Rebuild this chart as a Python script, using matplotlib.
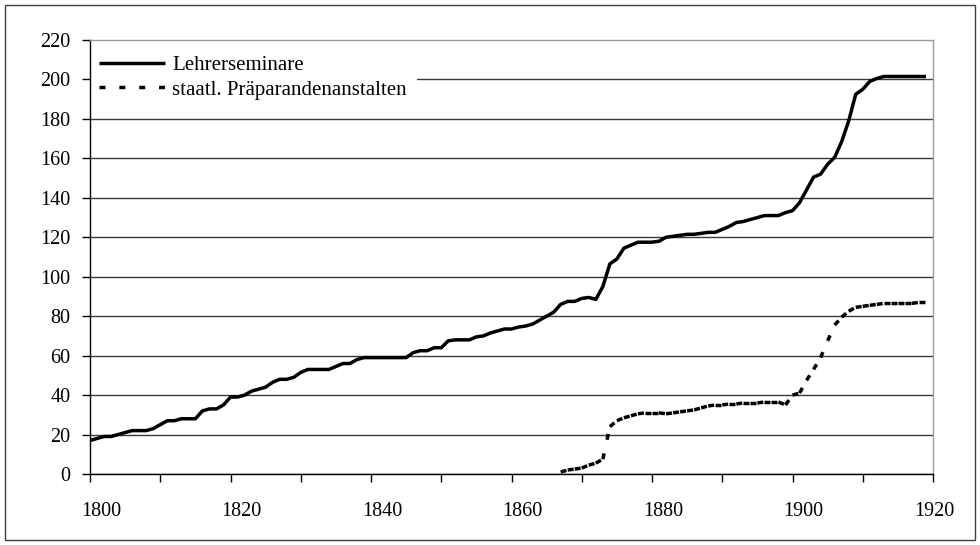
import numpy as np
import matplotlib
matplotlib.use('Agg')
import matplotlib.pyplot as plt
from matplotlib.collections import LineCollection
from matplotlib.lines import Line2D
from matplotlib.patches import Rectangle
import matplotlib.transforms as mtransforms

plt.rcParams['font.family'] = ['Liberation Serif', 'DejaVu Serif']
plt.rcParams['lines.scale_dashes'] = False

# ---------------- data ----------------
years_seminare = list(range(1800, 1920))
seminare = [
    17, 18, 19, 19, 20, 21, 22, 22, 22, 23,              # 1800-1809
    25, 27, 27, 28, 28, 28, 32, 33, 33, 35,              # 1810-1819
    39, 39, 40, 42, 43, 44, 46.5, 48, 48, 49,            # 1820-1829
    51.5, 53, 53, 53, 53, 54.5, 56, 56, 58, 59,          # 1830-1839
    59, 59, 59, 59, 59, 59, 61.5, 62.5, 62.5, 64,        # 1840-1849
    64, 67.5, 68, 68, 68, 69.5, 70, 71.5, 72.5, 73.5,    # 1850-1859
    73.5, 74.5, 75, 76, 78, 80, 82, 86, 87.5, 87.5,      # 1860-1869
    89, 89.5, 88.5, 95, 106.5, 109, 114.5, 116, 117.5, 117.5,   # 1870-1879
    117.5, 118, 120, 120.5, 121, 121.5, 121.5, 122, 122.5, 122.5,  # 1880-1889
    124, 125.5, 127.5, 128, 129, 130, 131, 131, 131, 132.5,       # 1890-1899
    133.5, 137.5, 144, 150.5, 152, 157, 160.5, 168.5, 179, 192.5,  # 1900-1909
    195, 199, 200.5, 201.5, 201.5, 201.5, 201.5, 201.5, 201.5, 201.5,  # 1910-1919
]

years_praep = list(range(1867, 1920))
praep = [
    1, 2, 2.5,                                           # 1867-1869
    3, 4.5, 5.5, 7.5, 24, 27, 28.5, 29.5, 30.5, 31,      # 1870-1879
    31, 31, 30.5, 31, 31.5, 32, 32.5, 33.5, 34.5, 35,    # 1880-1889
    35, 35.5, 35.5, 36, 36, 36, 36.5, 36.5, 36.5, 35,    # 1890-1899
    40, 41, 47.5, 53, 59, 67.5, 75.5, 79.5, 82.5, 84.5,  # 1900-1909
    85, 85.5, 86, 86.5, 86.5, 86.5, 86.5, 86.5, 87, 87,  # 1910-1919
]

series_labels = ['Lehrerseminare', 'staatl. Präparandenanstalten']
y_ticks = list(range(0, 221, 20))
x_ticks = list(range(1800, 1921, 10))
x_ticklabels = [str(y) if y % 20 == 0 else '' for y in x_ticks]

# ---------------- figure ----------------
W, H = 980, 545
fig = plt.figure(figsize=(W / 100, H / 100), dpi=100)
ax = fig.add_axes([90 / W, (H - 474) / H, 843 / W, 434 / H])
ax.set_xlim(1800, 1920)
ax.set_ylim(0, 220)

ax.set_yticks(y_ticks)
ax.set_xticks(x_ticks)
ax.set_xticklabels(x_ticklabels)
ax.yaxis.grid(True, color='#3a3a3a', lw=1.0)
ax.set_axisbelow(True)
ax.yaxis.get_gridlines()[-1].set_visible(False)

ax.tick_params(axis='y', direction='out', length=6, width=1, labelsize=14.5,
               pad=8, color='black')
ax.tick_params(axis='x', direction='out', length=6, width=1, labelsize=14.5,
               pad=14, color='black')

for s in ['left', 'bottom']:
    ax.spines[s].set_color('black')
    ax.spines[s].set_linewidth(1.0)
for s in ['top', 'right']:
    ax.spines[s].set_color('#9a9a9a')
    ax.spines[s].set_linewidth(1.0)
for s in ax.spines.values():
    s.set_zorder(6)

# shift x labels slightly to the right as in the reference
for i, lab in enumerate(ax.get_xticklabels()):
    dx = 11 if x_ticks[i] < 1920 else 1
    lab.set_transform(lab.get_transform() +
                      mtransforms.ScaledTranslation(dx / 100, 0, fig.dpi_scale_trans))

LW = 2.5
DASH = (0, (4.3, 10.0))

ax.plot(years_seminare, seminare, color='black', lw=LW,
        solid_joinstyle='round', solid_capstyle='butt', zorder=3)

xp = np.asarray(years_praep, dtype=float)
yp = np.asarray(praep, dtype=float)
segs = np.stack([np.column_stack([xp[:-1], yp[:-1]]),
                 np.column_stack([xp[1:], yp[1:]])], axis=1)
lc = LineCollection(segs, colors='black', linewidths=LW, linestyles=[DASH],
                    capstyle='butt', zorder=3)
ax.add_collection(lc)

handles = [Line2D([], [], color='black', lw=LW, solid_capstyle='butt'),
           Line2D([], [], color='black', lw=LW, linestyle=DASH, dash_capstyle='butt')]
leg = ax.legend(handles, series_labels, loc='upper left',
                bbox_to_anchor=(0, 1 - 6 / 434),
                frameon=True, fancybox=False, edgecolor='none', facecolor='white',
                framealpha=1, fontsize=15, handlelength=3.17, handletextpad=0.34,
                borderpad=0.45, borderaxespad=0, labelspacing=0.25)
leg.set_zorder(5)

fig.patches.append(Rectangle((5 / W, 5 / H), 970 / W, 535 / H,
                             transform=fig.transFigure, fill=False,
                             edgecolor='#404040', lw=1.0))

fig.savefig('out.png', dpi=100)
